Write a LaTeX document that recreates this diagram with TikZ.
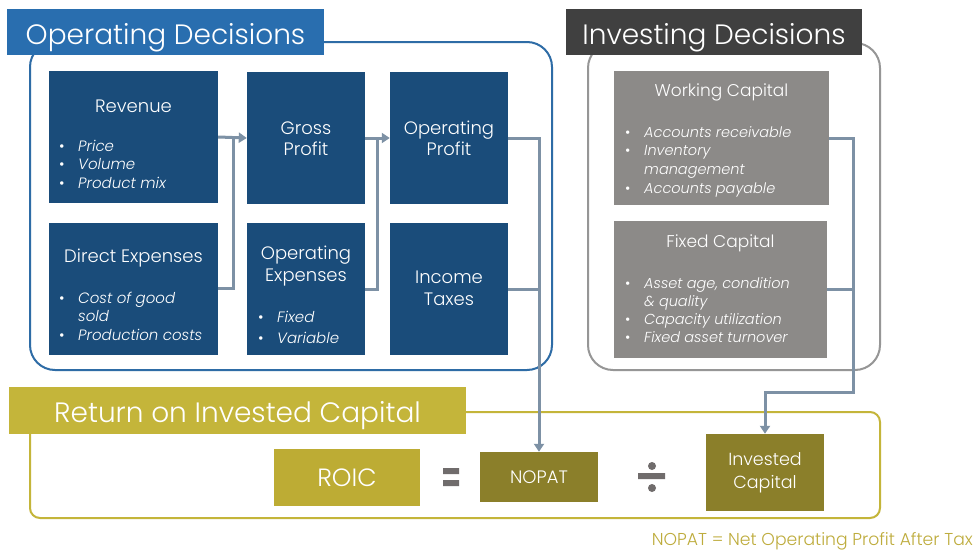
\documentclass[tikz,border=0pt]{standalone}
\usepackage{fontspec}
\setmainfont{Poppins}[UprightFont=* Light,ItalicFont=* Light Italic]
\usetikzlibrary{positioning,calc,arrows.meta}

\definecolor{hdrblue}{RGB}{41,110,175}
\definecolor{boxblue}{RGB}{26,76,122}
\definecolor{frameblue}{RGB}{46,108,166}
\definecolor{hdrgray}{RGB}{64,64,64}
\definecolor{boxgray}{RGB}{140,138,136}
\definecolor{framegray}{RGB}{150,150,150}
\definecolor{hdrolive}{RGB}{196,181,58}
\definecolor{roicolive}{RGB}{189,172,52}
\definecolor{darkolive}{RGB}{139,127,42}
\definecolor{linkgray}{RGB}{125,145,165}
\definecolor{signgray}{RGB}{112,108,108}
\definecolor{noteolive}{RGB}{190,172,60}

\newcommand{\blist}[1]{\begin{tabular}[t]{@{}l@{}}#1\end{tabular}}
\newcommand{\itm}{\makebox[19pt][l]{\upshape\textbullet}}
\newcommand{\ind}{\hspace*{19pt}}

\begin{document}
\begin{tikzpicture}[x=1pt,y=-1pt,
	hdr/.style={text=white,minimum height=46pt,inner sep=0pt,text height=24pt,text depth=0pt,font=\fontsize{28}{30}\selectfont},
	panel/.style={inner sep=0pt,minimum height=132pt},
	ttl/.style={text=white,align=center,inner sep=0pt,font=\fontsize{18}{21.5}\selectfont},
	bl/.style={text=white,anchor=base west,inner sep=0pt,font=\fontsize{15}{18.5}\selectfont\itshape},
	link/.style={draw=linkgray,line width=3pt},
	tip/.style={-{Triangle[width=10pt,length=8pt]}},
	frame/.style={line width=2pt,rounded corners=25pt}]

\useasboundingbox[fill=white] (0,0) rectangle (975,552);

% frames and headers
\draw[frame,frameblue] (30,42) rectangle (552,370);
\draw[frame,framegray] (588,43) rectangle (880,370);
\draw[frame,hdrolive,rounded corners=10pt] (30,412) rectangle (880,518);

\node[hdr,fill=hdrblue,minimum width=317pt] (ophdr) at (165.5,32) {Operating Decisions};
\node[hdr,fill=hdrgray,minimum width=296pt] (invhdr) at (714,32) {Investing Decisions};
\node[hdr,fill=hdrolive,minimum width=457pt,minimum height=47pt] (rethdr) at (237.5,410.5) {Return on Invested Capital};

% operating boxes
\foreach \n/\x/\y/\w in {rev/133.5/137/169,dex/133.5/288.5/169,gp/306/138/118,ox/306/289/118,op/449/138/118,tax/449/289/118}
	\node[panel,fill=boxblue,minimum width=\w pt] (\n) at (\x,\y) {};

\node[ttl] (revT) at (133.5,106) {Revenue};
\node[bl] (revL) at (59,151) {\blist{\itm Price\\\itm Volume\\\itm Product mix}};
\node[ttl] (dexT) at (133.5,258) {Direct Expenses};
\node[bl] (dexL) at (59,303) {\blist{\itm Cost of good\\\ind sold\\\itm Production costs}};
\node[ttl] (gpT) at (306,138.5) {Gross\\Profit};
\node[ttl] (oxT) at (306,266) {Operating\\Expenses};
\node[bl] (oxL) at (258,322) {\blist{\itm Fixed\\[2.5pt]\itm Variable}};
\node[ttl] (opT) at (449,138.5) {Operating\\Profit};
\node[ttl] (taxT) at (449,288.5) {Income\\Taxes};

% investing boxes
\node[panel,fill=boxgray,minimum width=215pt,minimum height=134pt] (wc) at (721.5,138) {};
\node[panel,fill=boxgray,minimum width=213pt,minimum height=137pt] (fc) at (720.5,289.5) {};
\node[ttl,font=\fontsize{17}{20}\selectfont] (wcT) at (721.5,92) {Working Capital};
\node[bl,font=\fontsize{14.5}{18.7}\selectfont\itshape] (wcL) at (625,137) {\blist{\itm Accounts receivable\\\itm Inventory\\\ind management\\\itm Accounts payable}};
\node[ttl,font=\fontsize{17}{20}\selectfont] (fcT) at (720.5,243) {Fixed Capital};
\node[bl,font=\fontsize{14.5}{18.3}\selectfont\itshape] (fcL) at (625,288) {\blist{\itm Asset age, condition\\\ind \& quality\\\itm Capacity utilization\\\itm Fixed asset turnover}};

% ROIC row
\node[fill=roicolive,text=white,minimum width=146pt,minimum height=57pt,font=\fontsize{25}{28}\selectfont] (roic) at (347,477.5) {ROIC};
\node[fill=darkolive,text=white,minimum width=118pt,minimum height=50pt,font=\fontsize{18}{21}\selectfont] (nopat) at (539,477) {NOPAT};
\node[fill=darkolive,text=white,align=center,minimum width=118pt,minimum height=77pt,font=\fontsize{17.5}{23}\selectfont] (ic) at (765,472.5) {Invested\\Capital};

\fill[signgray] (443,468) rectangle (459,474) (443,480) rectangle (459,486);
\fill[signgray] (652,466) circle[radius=4] (638,473) rectangle (665,479) (652,488) circle[radius=4];

\node[anchor=east,text=noteolive,inner sep=0pt,font=\fontsize{17.2}{18}\selectfont] (note) at (973,541) {NOPAT = Net Operating Profit After Tax};

% connectors
\coordinate (j1) at ($(rev.east)!.55!(gp.west)$);
\coordinate (j2) at ($(gp.east)!.5!(op.west)$);
\coordinate (k1) at (853,392);
\draw[link,tip] (rev.east) -- (gp.west);
\draw[link] (dex.east) -| (j1);
\draw[link,tip] (gp.east) -- (op.west);
\draw[link] (ox.east) -| (j2);
\draw[link,tip] (op.east) -| (nopat.north);
\draw[link] (tax.east) -- (tax.east -| nopat.north);
\draw[link,tip] (wc.east) -| (k1) -| (ic.north);
\draw[link] (fc.east) -- (fc.east -| k1);
\end{tikzpicture}
\end{document}
